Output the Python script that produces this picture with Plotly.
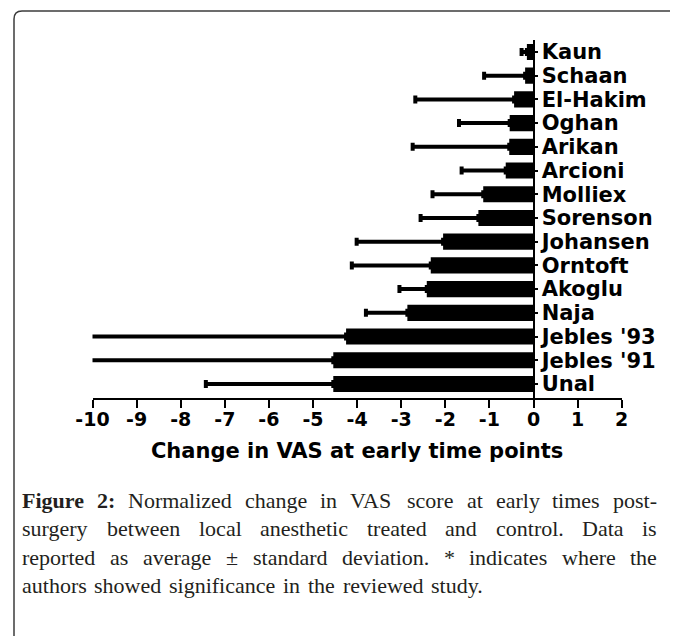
import plotly.graph_objects as go

# ---------------- data ----------------
studies = ["Kaun", "Schaan", "El-Hakim", "Oghan", "Arikan", "Arcioni", "Molliex",
           "Sorenson", "Johansen", "Orntoft", "Akoglu", "Naja", "Jebles '93",
           "Jebles '91", "Unal"]
mean_change = [-0.15, -0.19, -0.44, -0.54, -0.55, -0.63, -1.14,
               -1.25, -2.05, -2.33, -2.42, -2.86, -4.25,
               -4.54, -4.54]
sd_change = [0.12, 0.93, 2.24, 1.15, 2.19, 1.00, 1.15,
             1.31, 1.96, 1.79, 0.62, 0.94, 6.00,
             5.70, 2.89]
x_tick_values = list(range(-10, 3))
x_tick_labels = [str(v) for v in x_tick_values]
x_title = "Change in VAS at early time points"

caption_bold = "Figure 2:"
caption_lines = [
    "Normalized change in VAS score at early times post-",
    "surgery between local anesthetic treated and control. Data is",
    "reported as average \u00b1 standard deviation. * indicates where the",
    "authors showed significance in the reviewed study.",
]

# ---------------- layout helpers (screen px -> paper) ----------------
OFF = 8                      # default body margin of the html page
W, H = 678 - OFF, 636 - OFF  # figure size so that page fits the window
def px(x):
    return (x - OFF) / W
def py(y):
    return 1 - (y - OFF) / H

x_dom = [px(92.5), px(621.7)]
y_dom = [py(398.2), py(40.1)]
x_min, x_max = -10, 2
zero_pos = x_dom[0] + (0 - x_min) / (x_max - x_min) * (x_dom[1] - x_dom[0])

sans = "DejaVu Sans"

fig = go.Figure()
fig.add_trace(go.Bar(
    y=studies, x=mean_change, orientation="h",
    marker=dict(color="black", line=dict(width=0)),
    width=0.68,
    error_x=dict(type="data", symmetric=False,
                 array=[0] * len(sd_change), arrayminus=sd_change,
                 color="black", thickness=4, width=4),
    showlegend=False,
))

fig.update_layout(
    width=W, height=H,
    margin=dict(l=0, r=0, t=0, b=0, autoexpand=False),
    paper_bgcolor="white", plot_bgcolor="white",
    xaxis=dict(
        domain=x_dom, range=[x_min, x_max],
        tickmode="array", tickvals=x_tick_values, ticktext=x_tick_labels,
        showline=True, linecolor="black", linewidth=2,
        ticks="outside", ticklen=8, tickwidth=2, tickcolor="black",
        ticklabelstandoff=-5,
        showgrid=False, zeroline=False, automargin=False,
        tickfont=dict(family=sans, size=19, color="black", weight="bold"),
        title=dict(text=x_title, standoff=14,
                   font=dict(family=sans, size=21, color="black", weight="bold")),
    ),
    yaxis=dict(
        domain=y_dom, type="category",
        categoryorder="array", categoryarray=studies,
        tickmode="array", tickvals=studies, ticktext=studies,
        range=[len(studies) - 0.4, -0.5],
        anchor="free", position=zero_pos, side="right",
        showline=True, linecolor="black", linewidth=2,
        ticks="outside", ticklen=3, tickwidth=1.5, tickcolor="black",
        showgrid=False, zeroline=False, automargin=False,
        tickfont=dict(family=sans, size=21, color="black", weight="bold"),
    ),
)

# frame with rounded top-left corner
fl, ft, r = 14, 11, 8
path = (f"M {px(fl)} {py(H + 30)} L {px(fl)} {py(ft + r)} "
        f"Q {px(fl)} {py(ft)} {px(fl + r)} {py(ft)} L {px(W + 30)} {py(ft)}")
fig.add_shape(type="path", xref="paper", yref="paper", path=path,
              line=dict(color="#3c3c3c", width=1.5))

# ---------------- caption (justified word by word) ----------------
TNR = {" ": 250, "a": 444, "b": 500, "c": 444, "d": 500, "e": 444, "f": 333, "g": 500,
       "h": 500, "i": 278, "j": 278, "k": 500, "l": 278, "m": 778, "n": 500, "o": 500,
       "p": 500, "q": 500, "r": 333, "s": 389, "t": 278, "u": 500, "v": 500, "w": 722,
       "x": 500, "y": 500, "z": 444, "A": 722, "D": 722, "N": 722, "S": 556, "V": 722,
       "T": 611, ".": 250, ",": 250, "-": 333, ":": 278, "*": 500, "\u00b1": 564}
TNR_B = {"F": 611, "i": 278, "g": 500, "u": 556, "r": 444, "e": 444, "2": 500, ":": 333}

cap_size = 22
cap_font = "Liberation Serif"
left_x, right_x = 22, 657
line_y = [500, 528.5, 557, 585.5]

def word_w(word, bold):
    tbl = TNR_B if bold else TNR
    return sum(tbl.get(ch, 500) for ch in word) / 1000 * cap_size

for i, line in enumerate(caption_lines):
    words = [(w, False) for w in line.split(" ")]
    if i == 0:
        words = [(w, True) for w in caption_bold.split(" ")] + words
    widths = [word_w(w, b) for w, b in words]
    if i < len(caption_lines) - 1:
        gap = (right_x - left_x - sum(widths)) / (len(words) - 1)
    else:
        gap = 0.35 * cap_size
    x = left_x
    for (w, b), wd in zip(words, widths):
        fig.add_annotation(
            xref="paper", yref="paper", x=px(x - 2), y=py(line_y[i]),
            xanchor="left", yanchor="middle", showarrow=False,
            text=f"<b>{w}</b>" if b else w,
            font=dict(family=cap_font, size=cap_size, color="#231f20"),
        )
        x += wd + gap

fig.write_html("out.html")
